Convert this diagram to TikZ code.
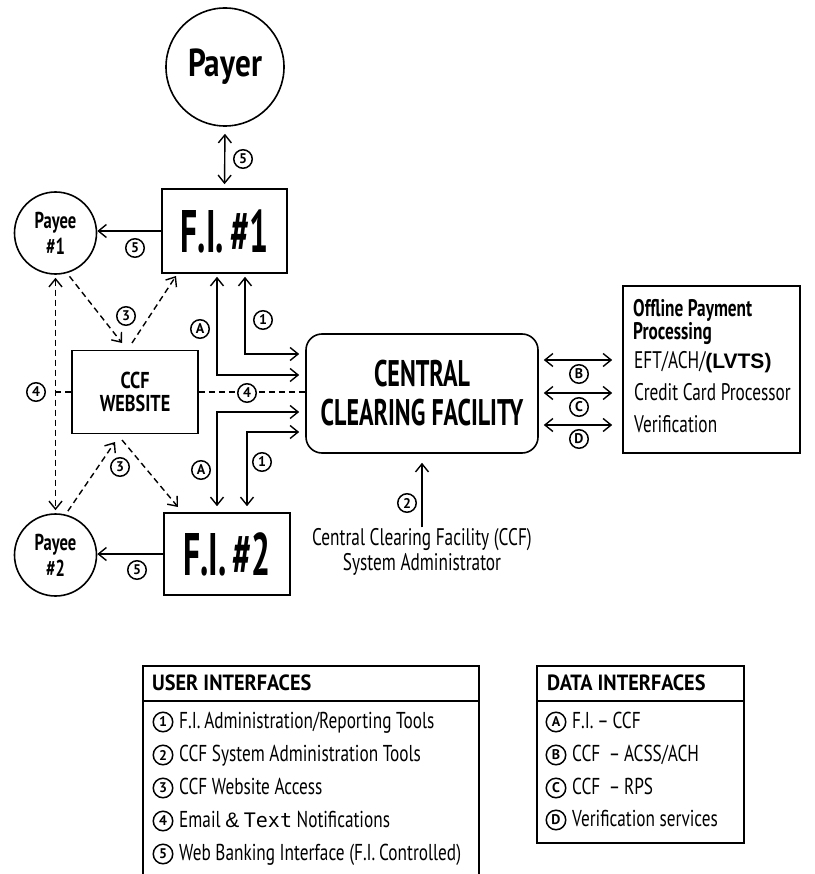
\documentclass[tikz,border=0pt]{standalone}
\usepackage{fontspec}
\setmainfont{PT Sans}
\newfontfamily\fa{PT Sans}[FakeStretch=0.56]
\newfontfamily\fb{PT Sans}[FakeStretch=0.65]
\newfontfamily\fw{PT Sans}[FakeStretch=0.79]
\newfontfamily\fc{PT Sans}[FakeStretch=0.72]
\newfontfamily\fl{PT Sans}[FakeStretch=0.75]
\newfontfamily\fd{PT Sans}[FakeStretch=0.92]
\newfontfamily\fe{PT Sans}[FakeStretch=0.8]
\newfontfamily\arialf{Liberation Sans}
\newfontfamily\monof{DejaVu Sans Mono}
\usetikzlibrary{arrows.meta,calc}
\newcommand\fsz[2]{\fontsize{#1}{#2}\selectfont}
\tikzset{
  >={Straight Barb[length=8pt,width=13pt]},
  conn/.style={line width=1.4pt},
  dsh/.style={line width=1.4pt, dash pattern=on 6pt off 4pt},
  box/.style={draw, line width=1.6pt, inner sep=0pt},
  circ/.style={draw, circle, line width=1.6pt, inner sep=0pt},
  num/.style={draw, circle, line width=1.5pt, minimum size=18.5pt, inner sep=0pt, fill=white, font=\bfseries\fsz{14}{14}},
  lnum/.style={draw, circle, line width=1.5pt, minimum size=19.5pt, inner sep=0pt, fill=white, font=\bfseries\fsz{14}{14}},
  txt/.style={inner sep=0pt, anchor=west, text height=16pt, text depth=4pt},
}
\begin{document}
\begin{tikzpicture}[x=1pt,y=-1pt]
\useasboundingbox (0,0) rectangle (814,874);
\fill[white] (0,0) rectangle (814,874);

% main nodes
\node[circ, minimum size=118pt, font=\fe\bfseries\fsz{39}{39}] (payer) at (225,67) {Payer};
\node[box, minimum width=125pt, minimum height=84pt, font=\fa\bfseries\fsz{60}{60}] (fi1) at (224.5,231) {F.I.\hspace{6pt}\#1};
\node[box, minimum width=126pt, minimum height=82pt, font=\fa\bfseries\fsz{60}{60}] (fi2) at (227,554) {F.I.\hspace{6pt}\#2};
\node[circ, minimum size=82pt, font=\fc\bfseries\fsz{23}{26}, align=center] (p1) at (55.5,233) {Payee\\\#1};
\node[circ, minimum size=82pt, font=\fc\bfseries\fsz{23}{26}, align=center] (p2) at (55.5,555) {Payee\\\#2};
\node[box, minimum width=126pt, minimum height=83pt, font=\fw\bfseries\fsz{23}{23}, align=center] (web) at (135,392) {CCF\\WEBSITE};
\node[box, rounded corners=16pt, minimum width=232pt, minimum height=119pt, font=\fb\bfseries\fsz{37}{39}, align=center] (ccf) at (422,393.5) {CENTRAL\\CLEARING FACILITY};
\node[box, minimum width=177pt, minimum height=167pt] (off) at (711.5,369.5) {};
\node[inner sep=0pt, anchor=west, align=left, font=\fc\bfseries\fsz{24}{21}] (offt) at (633,322) {Offline Payment\\Processing};
\node[txt, font=\fc\fsz{24}{24}] (eft) at (634,362) {EFT/ACH/{\arialf\bfseries\fsz{21}{21}(LVTS)}};
\node[txt, font=\fc\fsz{24}{24}] (ccp) at (634,394) {Credit Card Processor};
\node[txt, font=\fc\fsz{24}{24}] (ver) at (634,426) {Verification};
\node[inner sep=1pt, align=center, font=\fc\fsz{24}{25}] (adm) at (422,552) {Central Clearing Facility (CCF)\\System Administrator};

% coordinates for connector ends
\coordinate (w1) at (122,343);
\coordinate (w2) at (132,343);
\coordinate (w3) at (115,442);
\coordinate (w4) at (122,440);
\coordinate (f1c) at (176,276);
\coordinate (f2c) at (178,507);
\coordinate (xa) at (217,0);
\coordinate (x1t) at (245,0);
\coordinate (x1b) at (247,0);
\coordinate (ya1) at (0,375);
\coordinate (y11) at (0,354);
\coordinate (ya2) at (0,412);
\coordinate (y12) at (0,432);
\coordinate (yb) at (0,360);
\coordinate (yc) at (0,393);
\coordinate (yd) at (0,425);

% solid connectors
\draw[conn,<->,shorten <=7pt,shorten >=4pt] (payer.south) -- (fi1.north);
\draw[conn,->] (fi1.west) -- (fi1.west -| p1.east);
\draw[conn,->] (fi2.west) -- (fi2.west -| p2.east);
\draw[conn,<->,shorten <=3pt,shorten >=6pt] (fi1.south -| xa) |- (ccf.west |- ya1);
\draw[conn,<->,shorten <=3pt,shorten >=6pt] (fi1.south -| x1t) |- (ccf.west |- y11);
\draw[conn,<->,shorten <=6pt,shorten >=6pt] (ccf.west |- ya2) -| (fi2.north -| xa);
\draw[conn,<->,shorten <=6pt,shorten >=6pt] (ccf.west |- y12) -| (fi2.north -| x1b);
\draw[conn,<->,shorten <=5pt,shorten >=10pt] (ccf.east |- yb) -- (off.west |- yb);
\draw[conn,<->,shorten <=5pt,shorten >=10pt] (ccf.east |- yc) -- (off.west |- yc);
\draw[conn,<->,shorten <=5pt,shorten >=10pt] (ccf.east |- yd) -- (off.west |- yd);
\draw[conn,->,shorten >=9pt] (adm.north) -- (ccf.south);

% dashed connectors
\draw[dsh,<->,shorten <=3pt,shorten >=3pt] (p1.south) -- (p2.north);
\draw[dsh] (web.west) -- (web.west -| p1.south);
\draw[dsh] (web.east) -- (web.east -| ccf.west);
\draw[dsh,->,shorten <=4pt] (p1.-74) -- (w1);
\draw[dsh,->] (w2) -- (f1c);
\draw[dsh,->,shorten <=4pt] (p2.76) -- (w3);
\draw[dsh,->] (w4) -- (f2c);

% labels
\node[num] (l5a) at (243,159) {5};
\node[num] (l5b) at (135,248) {5};
\node[num] (l5c) at (137,570) {5};
\node[num] (l4a) at (36,392) {4};
\node[num] (l3a) at (126,316) {3};
\node[num] (l3b) at (120,467) {3};
\node[num] (lAa) at (200,329) {A};
\node[num] (l1a) at (263,320) {1};
\node[num] (l4b) at (247,393) {4};
\node[num] (lAb) at (201,470) {A};
\node[num] (l1b) at (262,462) {1};
\node[num] (lB) at (579,374) {B};
\node[num] (lC) at (579,407) {C};
\node[num] (lD) at (579,439) {D};
\node[num] (l2) at (407,503) {2};

% legend: user interfaces
\draw[line width=1.5pt] (143,874) -- (143,666) -- (479,666) -- (479,874);
\draw[line width=1.5pt] (143,701) -- (479,701);
\node[txt, font=\fd\bfseries\fsz{22}{22}] (uih) at (152,684) {USER INTERFACES};
\node[lnum] (u1) at (163,722) {1};
\node[lnum] (u2) at (163,755) {2};
\node[lnum] (u3) at (163,788) {3};
\node[lnum] (u4) at (163,821) {4};
\node[lnum] (u5) at (163,854) {5};
\node[txt, font=\fl\fsz{23}{23}] (u1t) at (179,722) {F.I.\,Administration/Reporting Tools};
\node[txt, font=\fl\fsz{23}{23}] (u2t) at (179,755) {CCF System Administration Tools};
\node[txt, font=\fl\fsz{23}{23}] (u3t) at (179,788) {CCF Website Access};
\node[txt, font=\fl\fsz{23}{23}] (u4t) at (179,821) {Email {\arialf\fsz{21}{21}\&} {\monof\fsz{20}{20}Text} Notifications};
\node[txt, font=\fl\fsz{23}{23}] (u5t) at (179,854) {Web Banking Interface (F.I.\,Controlled)};

% legend: data interfaces
\draw[line width=1.5pt] (537,666) rectangle (744,843);
\draw[line width=1.5pt] (537,701) -- (744,701);
\node[txt, font=\fd\bfseries\fsz{22}{22}] (dih) at (547,684) {DATA INTERFACES};
\node[lnum] (dA) at (556,722) {A};
\node[lnum] (dB) at (556,755) {B};
\node[lnum] (dC) at (556,788) {C};
\node[lnum] (dD) at (556,820) {D};
\node[txt, font=\fl\fsz{23}{23}] (dAt) at (572,722) {F.I.\,–\,CCF};
\node[txt, font=\fl\fsz{23}{23}] (dBt) at (572,755) {CCF \,–\,ACSS/ACH};
\node[txt, font=\fl\fsz{23}{23}] (dCt) at (572,788) {CCF \,–\,RPS};
\node[txt, font=\fl\fsz{23}{23}] (dDt) at (572,820) {Verification services};
\end{tikzpicture}
\end{document}
